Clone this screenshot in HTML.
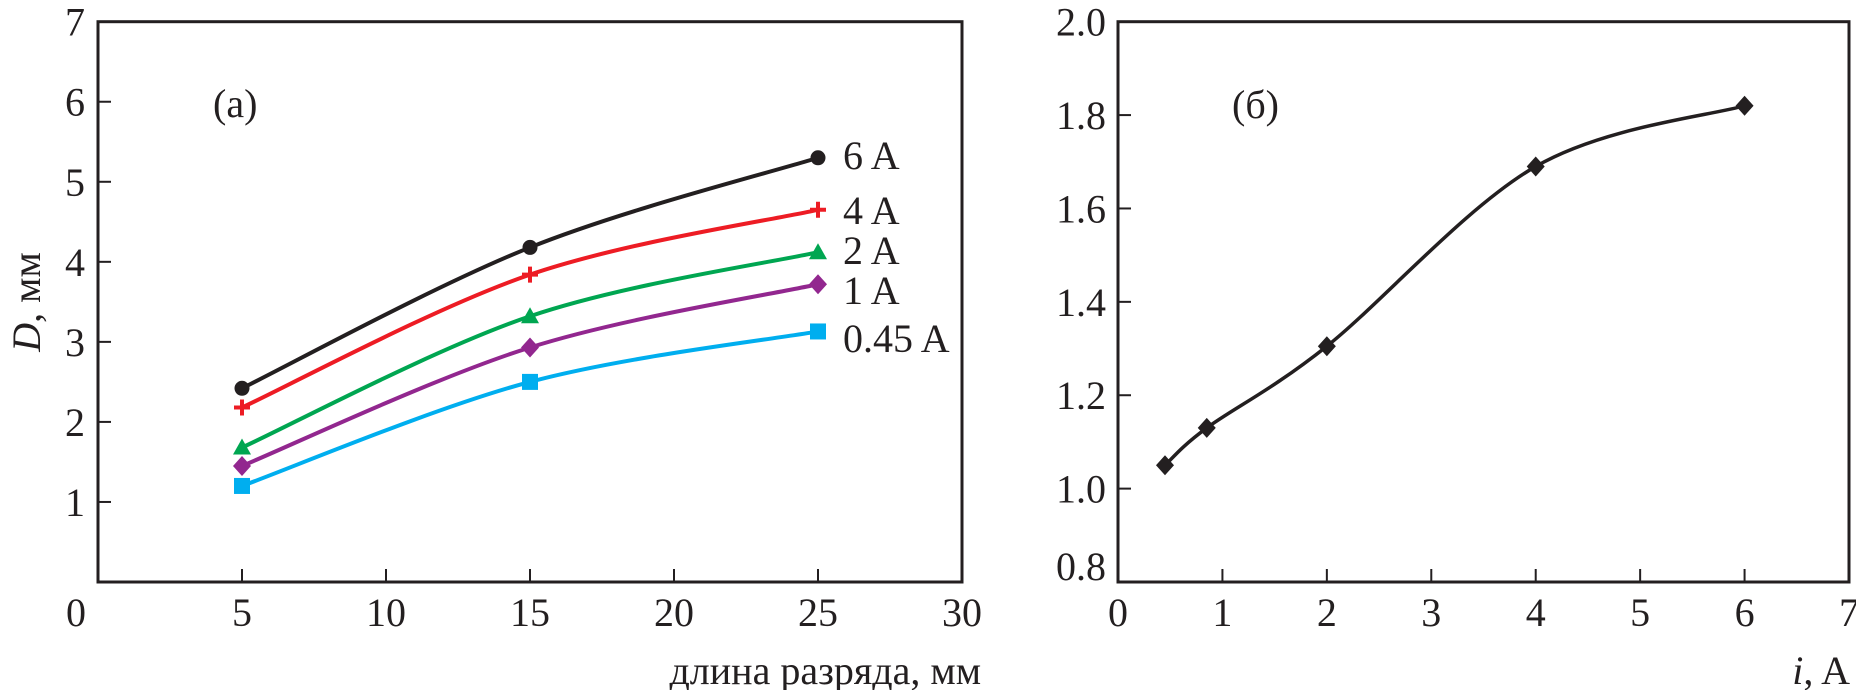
<!DOCTYPE html>
<html><head><meta charset="utf-8"><style>
html,body{margin:0;padding:0;background:#fff;}
svg{display:block;font-family:"Liberation Serif",serif;}
</style></head><body>
<svg id="fig" width="1856" height="690" viewBox="0 0 1856 690"></svg>
<script>
// ---- chart (a) data ----
const aXTicks = [0,5,10,15,20,25,30];
const aYTicks = [1,2,3,4,5,6,7];
const aCategories = [5,15,25];
const aSeriesNames = ["6 A","4 A","2 A","1 A","0.45 A"];
const aS6 = [2.42,4.18,5.3];
const aS4 = [2.18,3.84,4.65];
const aS2 = [1.68,3.32,4.12];
const aS1 = [1.45,2.93,3.72];
const aS045 = [1.2,2.5,3.13];
// ---- chart (б) data ----
const bXTicks = [0,1,2,3,4,5,6,7];
const bYTicks = [0.8,1.0,1.2,1.4,1.6,1.8,2.0];
const bCurrent = [0.45,0.85,2,4,6];
const bValues = [1.05,1.13,1.305,1.69,1.82];

const NS="http://www.w3.org/2000/svg";
const svg=document.getElementById('fig');
function el(tag,attrs,parent){const e=document.createElementNS(NS,tag);for(const k in attrs)e.setAttribute(k,attrs[k]);(parent||svg).appendChild(e);return e;}
function txt(s,attrs,parent){const t=el('text',attrs,parent);t.textContent=s;return t;}

// axis functions
const ax={x0:98,x1:962,y0:582,y1:21.7,xmin:0,xmax:30,ymin:0,ymax:7};
const bx={x0:1118,x1:1849,y0:582,y1:21.7,xmin:0,xmax:7,ymin:0.8,ymax:2.0};
function sx(a,v){return a.x0+(v-a.xmin)/(a.xmax-a.xmin)*(a.x1-a.x0);}
function sy(a,v){return a.y0-(v-a.ymin)/(a.ymax-a.ymin)*(a.y0-a.y1);}

function spline(pts){
  let d=`M${pts[0][0]},${pts[0][1]}`;
  for(let i=0;i<pts.length-1;i++){
    const p0=pts[i-1]||pts[i],p1=pts[i],p2=pts[i+1],p3=pts[i+2]||p2;
    const c1=[p1[0]+(p2[0]-p0[0])/6,p1[1]+(p2[1]-p0[1])/6];
    const c2=[p2[0]-(p3[0]-p1[0])/6,p2[1]-(p3[1]-p1[1])/6];
    d+=` C${c1[0]},${c1[1]} ${c2[0]},${c2[1]} ${p2[0]},${p2[1]}`;
  }
  return d;
}
function marker(type,x,y,color,g){
  let m;
  if(type==='circle')m=el('circle',{cx:x,cy:y,r:7.5,fill:color},g);
  else if(type==='plus')m=el('path',{d:`M${x-8},${y}H${x+8}M${x},${y-8}V${y+8}`,stroke:color,'stroke-width':4,fill:'none'},g);
  else if(type==='tri')m=el('polygon',{points:`${x},${y-9} ${x+9},${y+7} ${x-9},${y+7}`,fill:color},g);
  else if(type==='diamond')m=el('polygon',{points:`${x},${y-10} ${x+9},${y} ${x},${y+10} ${x-9},${y}`,fill:color},g);
  else m=el('rect',{x:x-8,y:y-8,width:16,height:16,fill:color},g);
  return m;
}
const C='#231f20';

function frame(a,name,xt,yt,yfmt,ylx,xfirstLabelX){
  const g=el('g',{});
  
  
  el('rect',{x:a.x0,y:a.y1,width:a.x1-a.x0,height:a.y0-a.y1,fill:'none',stroke:C,'stroke-width':3},g);
  xt.forEach((v,i)=>{
    const x=sx(a,v);
    if(v>a.xmin&&v<a.xmax)el('line',{x1:x,y1:a.y0,x2:x,y2:a.y0-13,stroke:C,'stroke-width':2},g);
    const t=txt(String(v),{x:(i===0&&xfirstLabelX)?xfirstLabelX:x,y:626,'font-size':40,'text-anchor':'middle',fill:C},g);
    
    
  });
  yt.forEach((v)=>{
    const y=sy(a,v);
    if(v>a.ymin&&v<a.ymax)el('line',{x1:a.x0,y1:y,x2:a.x0+13,y2:y,stroke:C,'stroke-width':2},g);
    const t=txt(yfmt(v),{x:ylx,y:(v===a.ymin&&name==='chart-b')?y-2:y+14,'font-size':40,'text-anchor':'end',fill:C},g);
    
    
  });
}
frame(ax,'chart-a',aXTicks,aYTicks,v=>String(v),85,76);
frame(bx,'chart-b',bXTicks,bYTicks,v=>v.toFixed(1),1106,null);

// chart a series
const aSeries=[aS6,aS4,aS2,aS1,aS045];
const colors=['#231f20','#ed1c24','#00a651','#92278f','#00aeef'];
const markers=['circle','plus','tri','diamond','square'];
const labelY=[155,210,250,290,338];
aSeries.forEach((s,k)=>{
  const g=el('g',{});
  
  
  const pts=aCategories.map((c,i)=>[sx(ax,c),sy(ax,s[i])]);
  el('path',{d:spline(pts),fill:'none',stroke:colors[k],'stroke-width':4},g);
  pts.forEach(p=>{const m=marker(markers[k],p[0],p[1],colors[k],g);
    
    });
  const t=txt(aSeriesNames[k],{x:843,y:labelY[k]+14,'font-size':40,fill:C},g);
  
  
});

// chart b series
{
  const g=el('g',{});
  
  
  const pts=bCurrent.map((c,i)=>[sx(bx,c),sy(bx,bValues[i])]);
  el('path',{d:spline(pts),fill:'none',stroke:C,'stroke-width':3.5},g);
  pts.forEach(p=>{const m=marker('diamond',p[0],p[1],C,g);
    
    });
}
</script>
<svg width="0" height="0"></svg>
<div style="position:absolute;left:0;top:0;width:1856px;height:690px;pointer-events:none">
<svg width="1856" height="690" style="position:absolute;left:0;top:0">
<text x="213" y="117" font-size="40" fill="#231f20" font-family="Liberation Serif, serif">(a)</text>
<text x="1232" y="118" font-size="40" fill="#231f20" font-family="Liberation Serif, serif">(б)</text>
<text x="981" y="684" font-size="40" text-anchor="end" fill="#231f20" font-family="Liberation Serif, serif">длина разряда, мм</text>
<text x="1850" y="684" font-size="40" text-anchor="end" fill="#231f20" font-family="Liberation Serif, serif"><tspan font-style="italic">i</tspan>, A</text>
<text transform="translate(40,302) rotate(-90)" font-size="40" text-anchor="middle" fill="#231f20" font-family="Liberation Serif, serif"><tspan font-style="italic">D</tspan>, мм</text>
</svg></div>
</body></html>
